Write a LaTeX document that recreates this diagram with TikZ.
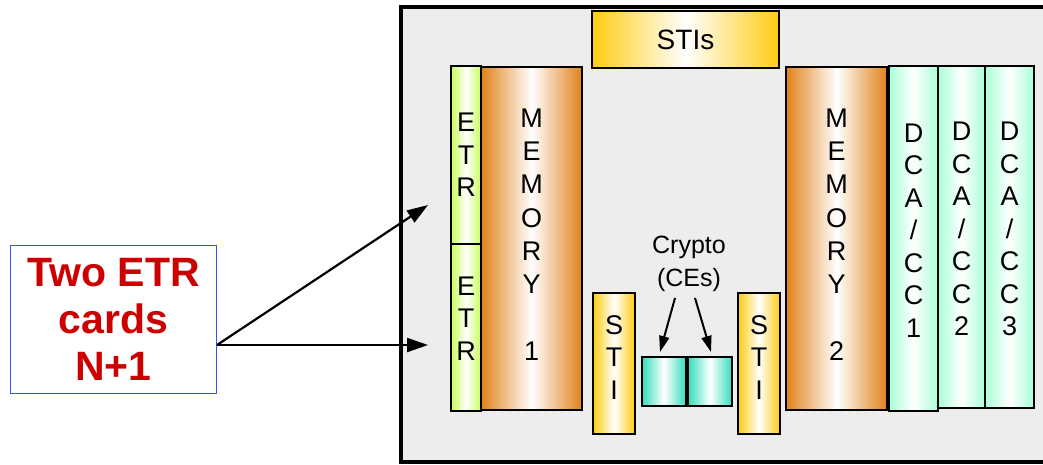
\documentclass[tikz,border=0pt]{standalone}
\usepackage{fontspec}
\setmainfont{Liberation Sans}
\usetikzlibrary{arrows.meta,calc}
\definecolor{orng}{HTML}{E0821A}
\definecolor{gold}{HTML}{FFCC11}
\definecolor{lime}{HTML}{C8FF5A}
\definecolor{teal2}{HTML}{33DDBB}
\definecolor{mint}{HTML}{A8FFD8}
\definecolor{panel}{HTML}{EDEDED}
\definecolor{lblred}{HTML}{CC0000}
\definecolor{lblblue}{HTML}{3355EE}
\tikzset{
  card/.style={draw=black, line width=2pt, anchor=north west, inner sep=0pt, align=center,
     font=\fontsize{27}{32.5}\selectfont},
  mem/.style={card, left color=orng, right color=orng, middle color=white, font=\fontsize{27}{33.3}\selectfont},
  etr/.style={card, left color=lime, right color=lime, middle color=white},
  sti/.style={card, left color=gold, right color=gold, middle color=white},
  ce/.style={card, left color=teal2, right color=teal2, middle color=white},
  dca/.style={card, left color=mint, right color=mint, middle color=white},
  arr/.style={line width=2.2pt, -{Triangle[length=21pt,width=14pt]}},
  carr/.style={line width=2pt, -{Triangle[length=16pt,width=10pt]}},
}
\begin{document}
\begin{tikzpicture}[x=1pt,y=-1pt]
\useasboundingbox (0,0) rectangle (1043,464);
\clip (0,0) rectangle (1043,464);
\fill[white] (0,0) rectangle (1043,464);
% chassis
\draw[line width=4pt, fill=panel] (401,7) rectangle (1070,462);
% top STIs
\node[sti, minimum width=187pt, minimum height=57pt, font=\fontsize{28}{32}\selectfont] (stis) at (591,10) {STIs};
% ETR cards
\node[etr, minimum width=30pt, minimum height=178pt] (etr1) at (450,65) {E\\T\\R};
\node[etr, minimum width=30pt, minimum height=167pt, text depth=18pt] (etr2) at (450,243) {E\\T\\R};
% memory
\node[mem, minimum width=101pt, minimum height=343pt, text depth=8pt] (mem1) at (480,66) {M\\E\\M\\O\\R\\Y\\[33.3pt]1};
\node[mem, minimum width=101pt, minimum height=343pt, text depth=8pt] (mem2) at (785,66) {M\\E\\M\\O\\R\\Y\\[33.3pt]2};
% STI small
\node[sti, minimum width=42pt, minimum height=141pt, text depth=12pt] (stil) at (592,292) {S\\T\\I};
\node[sti, minimum width=42pt, minimum height=141pt, text depth=12pt] (stir) at (737,292) {S\\T\\I};
% crypto
\node[ce, minimum width=44pt, minimum height=49pt] (ce1) at (641,356) {};
\node[ce, minimum width=44pt, minimum height=49pt] (ce2) at (687,356) {};
\node[font=\fontsize{25}{33}\selectfont, align=center, inner sep=0pt] (cryp) at (689,264) {Crypto\\(CEs)};
\draw[carr] ($(cryp.south)+(-14,6)$) -- ($(ce1.north)+(-4,-4)$);
\draw[carr] ($(cryp.south)+(6,6)$) -- ($(ce2.north)+(1,-4)$);
% DCA/CC
\node[dca, minimum width=49pt, minimum height=345pt, text depth=16pt] (dca1) at (888,65) {D\\C\\A\\/\\C\\C\\1};
\node[dca, minimum width=47pt, minimum height=342pt, text depth=16pt] (dca2) at (937,65) {D\\C\\A\\/\\C\\C\\2};
\node[dca, minimum width=49pt, minimum height=342pt, text depth=16pt] (dca3) at (984,65) {D\\C\\A\\/\\C\\C\\3};
% label
\node[draw=lblblue, line width=1pt, anchor=north west, minimum width=206pt, minimum height=148pt,
      inner sep=0pt, align=center, text=lblred, font=\bfseries\fontsize{41}{47}\selectfont] (lbl) at (10,245) {Two ETR\\cards\\N+1};
\coordinate (src) at (lbl.east |- 0,345);
\coordinate (t1) at (428,205);
\coordinate (t2) at (428,345);
\draw[arr] (src) -- (t1);
\draw[arr] (src) -- (t2);
\end{tikzpicture}
\end{document}
